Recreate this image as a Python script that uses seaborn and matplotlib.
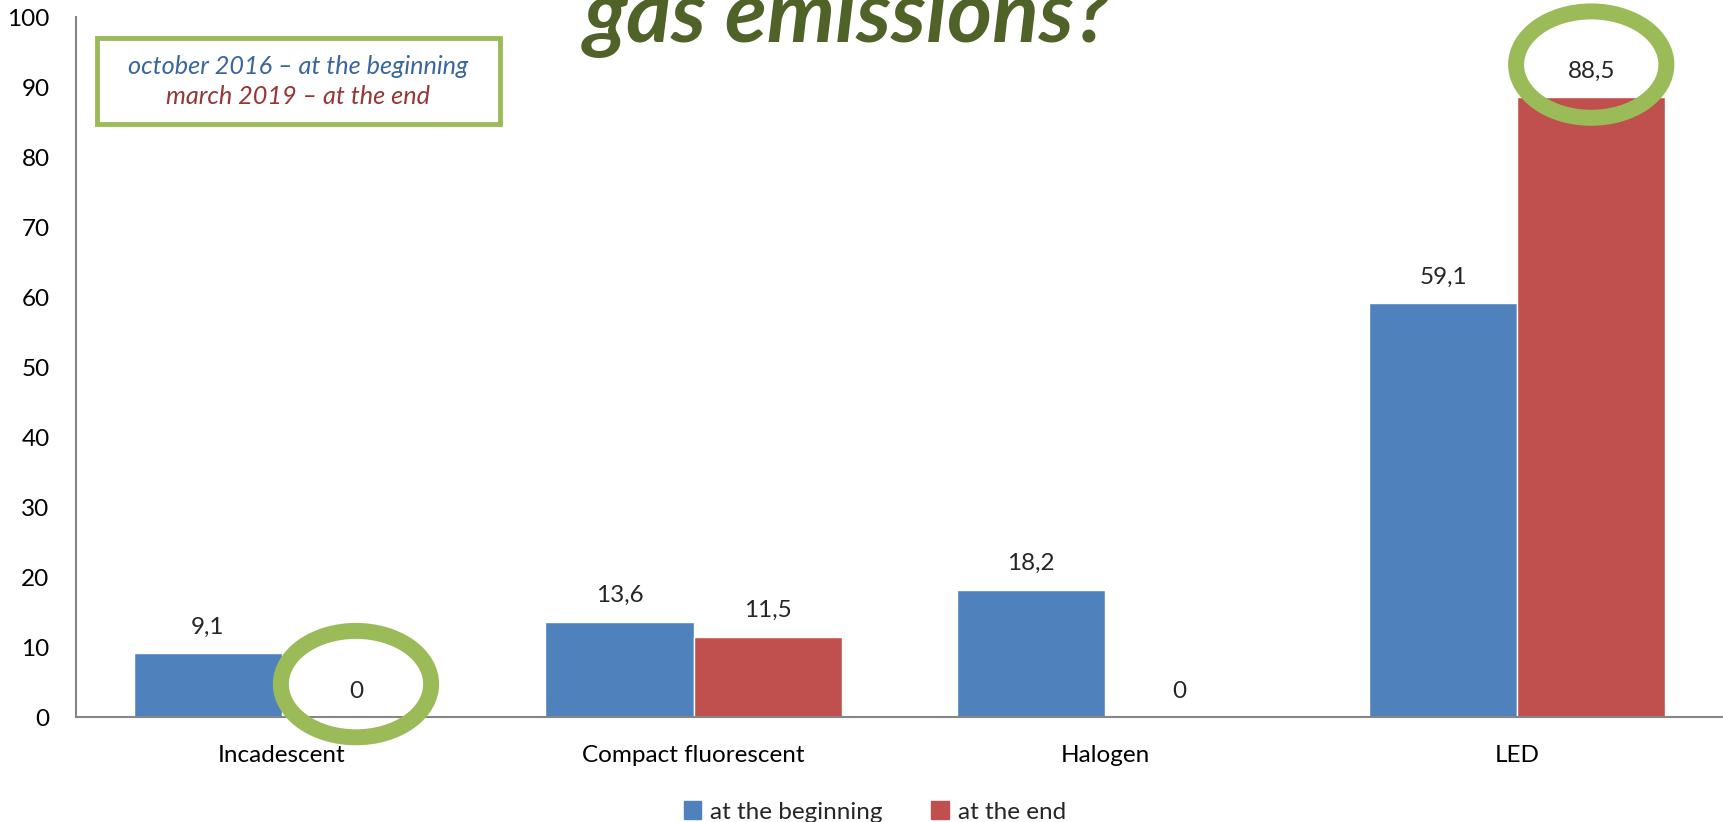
import matplotlib
matplotlib.use("Agg")
import matplotlib.pyplot as plt
from matplotlib.patches import Ellipse, Rectangle
import seaborn as sns
import pandas as pd

# data
lamps = ["Incadescent", "Compact fluorescent", "Halogen", "LED"]
at_beginning = [9.1, 13.6, 18.2, 59.1]
at_end = [0, 11.5, 0, 88.5]
periods = ["at the beginning", "at the end"]
yticks = list(range(0, 101, 10))
circled = [(0, 1), (3, 1)]  # (lamp index, period index) marked with a green ring

BLUE = "#4F81BD"
RED = "#C0504D"
GREEN = "#9BBB59"
GREY = "#868686"

df = pd.DataFrame({
    "lamp": lamps * 2,
    "value": at_beginning + at_end,
    "period": [periods[0]] * len(lamps) + [periods[1]] * len(lamps),
})

sns.set_style("white")
plt.rcParams["font.family"] = ["Lato", "DejaVu Sans"]

W, H = 1723, 822
fig = plt.figure(figsize=(W / 100, H / 100), dpi=100)
ax = fig.add_axes([76 / W, (H - 717) / H, (W - 76) / W, (717 - 17) / H])

sns.barplot(data=df, x="lamp", y="value", hue="period", order=lamps,
            hue_order=periods, palette=[BLUE, RED], saturation=1,
            width=0.72, gap=0, ax=ax, legend=False)

ax.set_xlim(-0.5, len(lamps) - 0.5)
ax.set_ylim(0, 100)
ax.set_yticks(yticks)
ax.set_xlabel("")
ax.set_ylabel("")
ax.tick_params(axis="both", length=0, labelsize=17.5, labelcolor="black")
ax.tick_params(axis="y", pad=19)
ax.tick_params(axis="x", pad=20)
sns.despine(ax=ax)
for side in ["left", "bottom"]:
    ax.spines[side].set_color(GREY)
    ax.spines[side].set_linewidth(1.5)

# value labels above the bars
for cont in ax.containers:
    for bar in cont:
        v = bar.get_height()
        ax.annotate(f"{v:g}".replace(".", ","),
                    (bar.get_x() + bar.get_width() / 2, v),
                    xytext=(0, 26), textcoords="offset pixels",
                    ha="center", va="center", fontsize=17.5)

# green rings around selected values
for li, pi in circled:
    bar = ax.containers[pi][li]
    cx = bar.get_x() + bar.get_width() / 2
    cy = bar.get_height() + 4.7
    ax.add_patch(Ellipse((cx, cy), 0.365, 15.2, fill=False, edgecolor=GREEN,
                         linewidth=11.5, clip_on=False, zorder=5))

# legend at the bottom
handles = [Rectangle((0, 0), 1, 1, color=c) for c in [BLUE, RED]]
fig.legend(handles, periods, loc="center", bbox_to_anchor=(875 / W, 1 - 812 / H),
           ncol=2, frameon=False, fontsize=17.5, handlelength=0.7,
           handleheight=0.7, handletextpad=0.4, columnspacing=2.0)

# info box top left
fig.patches.append(Rectangle((97 / W, 1 - 124 / H), (500 - 97) / W, (124 - 38) / H,
                             transform=fig.transFigure, fill=False,
                             edgecolor=GREEN, linewidth=3.5))
fig.text(298 / W, 1 - 66 / H, "october 2016 \u2013 at the beginning", color="#3A66A0",
         style="italic", fontsize=18.2, ha="center", va="center")
fig.text(298 / W, 1 - 97 / H, "march 2019 \u2013 at the end", color="#953735",
         style="italic", fontsize=18.2, ha="center", va="center")

# title, cut off at the top edge as in the reference
fig.text(848 / W, 1 - 42 / H, "gas emissions?", color="#4F6228", fontsize=62,
         fontweight="bold", style="italic", ha="center", va="baseline")

fig.savefig("out.png", dpi=100)
